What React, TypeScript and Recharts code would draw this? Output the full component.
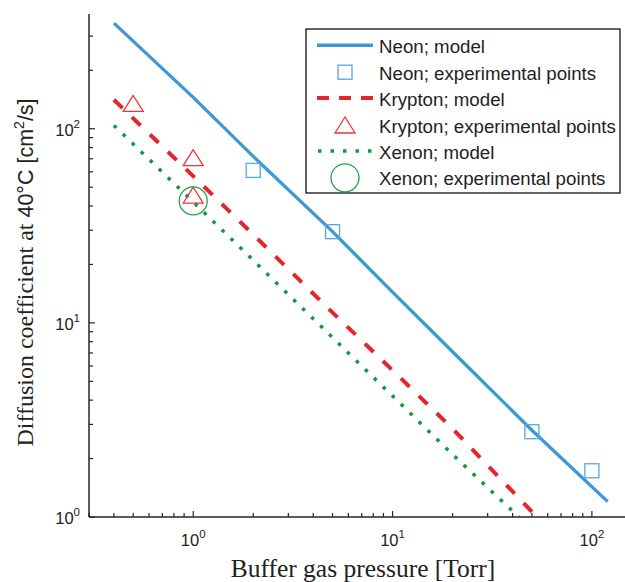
import { ComposedChart, Line, Scatter, XAxis, YAxis } from "recharts";

// model curves (pressure in Torr, D in cm^2/s)
const neonModelP = [0.4, 1, 2, 5, 10, 20, 50, 120];
const neonModelD = [350, 145, 72, 29.5, 14.4, 7.1, 2.8, 1.2];
const kryptonModelP = [0.4, 1, 2, 5, 10, 20, 53];
const kryptonModelD = [141, 57, 28.5, 11.3, 5.7, 2.85, 1.0];
const xenonModelP = [0.4, 1, 2, 5, 10, 20, 43];
const xenonModelD = [104, 42, 21, 8.4, 4.2, 2.1, 1.0];

// experimental points
const neonExpP = [2, 5, 50, 100];
const neonExpD = [61, 29.5, 2.75, 1.73];
const kryptonExpP = [0.5, 1, 1];
const kryptonExpD = [135, 71, 45.5];
const xenonExpP = [1];
const xenonExpD = [42.5];

const xTicks = [0.3, 0.4, 0.5, 0.6, 0.7, 0.8, 0.9, 1, 2, 3, 4, 5, 6, 7, 8, 9, 10, 20, 30, 40, 50, 60, 70, 80, 90, 100];
const yTicks = [1, 2, 3, 4, 5, 6, 7, 8, 9, 10, 20, 30, 40, 50, 60, 70, 80, 90, 100, 200, 300];
const majorTicks = [1, 10, 100];
const majorExp = ["0", "1", "2"];

const legendLabels = [
  "Neon; model",
  "Neon; experimental points",
  "Krypton; model",
  "Krypton; experimental points",
  "Xenon; model",
  "Xenon; experimental points",
];

const BLUE = "#3d98d3";
const BLUE_PT = "#55a8de";
const RED = "#e3262b";
const RED_PT = "#e8393f";
const GREEN = "#0f9a3d";
const GREEN_PT = "#25a44c";
const AXIS = "#262626";
const SANS = "'Liberation Sans', Arial, sans-serif";
const SERIF = "'Liberation Serif', 'Times New Roman', serif";

const rows = (p: number[], d: number[]) => p.map((v, i) => ({ p: v, d: d[i] }));

const tickLen = (v: number) => (majorTicks.includes(v) ? 6 : 4);

function BottomTick(props: any) {
  const { x, y, payload } = props;
  const v = payload.value;
  const idx = majorTicks.indexOf(v);
  return (
    <g>
      <line x1={x} x2={x} y1={y} y2={y - tickLen(v)} stroke={AXIS} strokeWidth={1.2} />
      {idx >= 0 && (
        <text x={x} y={y + 29} textAnchor="middle" fontFamily={SANS} fontSize={16.5} fill="#222">
          10
          <tspan dy={-8} fontSize={11.5}>
            {majorExp[idx]}
          </tspan>
        </text>
      )}
    </g>
  );
}

function TopTick(props: any) {
  const { x, y, payload } = props;
  return <line x1={x} x2={x} y1={y} y2={y + tickLen(payload.value)} stroke={AXIS} strokeWidth={1.2} />;
}

function LeftTick(props: any) {
  const { x, y, payload } = props;
  const v = payload.value;
  const idx = majorTicks.indexOf(v);
  return (
    <g>
      <line x1={x} x2={x + tickLen(v)} y1={y} y2={y} stroke={AXIS} strokeWidth={1.2} />
      {idx >= 0 && (
        <text x={x - 9} y={y + 7} textAnchor="end" fontFamily={SANS} fontSize={16.5} fill="#222">
          10
          <tspan dy={-8} fontSize={11.5}>
            {majorExp[idx]}
          </tspan>
        </text>
      )}
    </g>
  );
}

function RightTick(props: any) {
  const { x, y, payload } = props;
  return <line x1={x} x2={x - tickLen(payload.value)} y1={y} y2={y} stroke="#888" strokeWidth={1.2} />;
}

function XLabel(props: any) {
  const vb = props.viewBox;
  return (
    <text x={vb.x + vb.width / 2 + 5} y={vb.y + 60} textAnchor="middle" fontFamily={SERIF} fontSize={25.5} fill="#222">
      Buffer gas pressure [Torr]
    </text>
  );
}

function YLabel(props: any) {
  const vb = props.viewBox;
  const cx = 33;
  const cy = vb.y + vb.height / 2 + 7;
  return (
    <text
      x={cx}
      y={cy}
      transform={`rotate(-90, ${cx}, ${cy})`}
      textAnchor="middle"
      fontFamily={SERIF}
      fontSize={24}
      fill="#222"
    >
      Diffusion coefficient at{" "}
      <tspan fontFamily={SANS} fontSize={21.5}>
        40°C [cm
      </tspan>
      <tspan fontFamily={SANS} fontSize={14} dy={-9}>
        2
      </tspan>
      <tspan fontFamily={SANS} fontSize={21.5} dy={9}>
        /s]
      </tspan>
    </text>
  );
}

const Square = (props: any) => (
  <rect x={props.cx - 7} y={props.cy - 7} width={14} height={14} fill="none" stroke={BLUE_PT} strokeWidth={1.3} />
);
const Triangle = (props: any) => (
  <polygon
    points={`${props.cx},${props.cy - 8} ${props.cx - 10},${props.cy + 8} ${props.cx + 10},${props.cy + 8}`}
    fill="none"
    stroke={RED_PT}
    strokeWidth={1.3}
  />
);
const Circle = (props: any) => (
  <circle cx={props.cx} cy={props.cy} r={14} fill="none" stroke={GREEN_PT} strokeWidth={1.3} />
);

function LegendBox() {
  const base = 24.3;
  const step = 26.4;
  return (
    <svg width={316} height={166} style={{ position: "absolute", left: 305, top: 28 }}>
      <rect x={1} y={1} width={314} height={164} fill="#fff" stroke="#111" strokeWidth={1.3} />
      {legendLabels.map((label, i) => {
        const by = base + i * step + 1;
        const cy = by - 8;
        let sample = null;
        if (i === 0) sample = <line x1={12} x2={68} y1={cy} y2={cy} stroke={BLUE} strokeWidth={3.5} />;
        if (i === 1) sample = <Square cx={40} cy={cy + 0.5} />;
        if (i === 2)
          sample = <line x1={12} x2={68} y1={cy} y2={cy} stroke={RED} strokeWidth={4} strokeDasharray="12 10" />;
        if (i === 3) sample = <Triangle cx={40} cy={cy + 0.5} />;
        if (i === 4)
          sample = <line x1={13} x2={68} y1={cy} y2={cy} stroke={GREEN} strokeWidth={3.5} strokeDasharray="3.5 9" />;
        if (i === 5) sample = <Circle cx={40} cy={cy + 0.5} />;
        return (
          <g key={label}>
            {sample}
            <text x={74} y={by} fontFamily={SANS} fontSize={18.7} fill="#222">
              {label}
            </text>
          </g>
        );
      })}
    </svg>
  );
}

export default function App() {
  const xDomain = [0.3, 150];
  const yDomain = [1, 390];
  return (
    <div
      style={{
        position: "fixed",
        left: 0,
        top: 0,
        width: 625,
        height: 582,
        overflow: "hidden",
        background: "#fff",
      }}
    >
      <ComposedChart width={640} height={582} margin={{ top: 14, right: 13, bottom: 0, left: 0 }}>
        <XAxis
          xAxisId="bottom"
          dataKey="p"
          type="number"
          scale="log"
          domain={xDomain}
          allowDataOverflow
          ticks={xTicks}
          interval={0}
          tickSize={0}
          tickMargin={0}
          tickLine={false}
          tick={(p: any) => <BottomTick {...p} />}
          axisLine={{ stroke: AXIS, strokeWidth: 1.5 }}
          height={65}
          label={(p: any) => <XLabel {...p} />}
        />
        <XAxis
          xAxisId="top"
          orientation="top"
          type="number"
          scale="log"
          domain={xDomain}
          allowDataOverflow
          ticks={xTicks}
          interval={0}
          tickSize={0}
          tickMargin={0}
          tickLine={false}
          tick={(p: any) => <TopTick {...p} />}
          axisLine={{ stroke: AXIS, strokeWidth: 1.5 }}
          height={0}
        />
        <YAxis
          yAxisId="left"
          dataKey="d"
          type="number"
          scale="log"
          domain={yDomain}
          allowDataOverflow
          ticks={yTicks}
          interval={0}
          tickSize={0}
          tickMargin={0}
          tickLine={false}
          tick={(p: any) => <LeftTick {...p} />}
          axisLine={{ stroke: AXIS, strokeWidth: 1.5 }}
          width={89}
          label={(p: any) => <YLabel {...p} />}
        />
        <YAxis
          yAxisId="right"
          orientation="right"
          type="number"
          scale="log"
          domain={yDomain}
          allowDataOverflow
          ticks={yTicks}
          interval={0}
          tickSize={0}
          tickMargin={0}
          tickLine={false}
          tick={(p: any) => <RightTick {...p} />}
          axisLine={{ stroke: AXIS, strokeWidth: 1.5 }}
          width={0}
        />
        <Line
          xAxisId="bottom"
          yAxisId="left"
          data={rows(neonModelP, neonModelD)}
          dataKey="d"
          type="linear"
          stroke={BLUE}
          strokeWidth={3.3}
          dot={false}
          isAnimationActive={false}
        />
        <Line
          xAxisId="bottom"
          yAxisId="left"
          data={rows(kryptonModelP, kryptonModelD)}
          dataKey="d"
          type="linear"
          stroke={RED}
          strokeWidth={4}
          strokeDasharray="12 13"
          dot={false}
          isAnimationActive={false}
        />
        <Line
          xAxisId="bottom"
          yAxisId="left"
          data={rows(xenonModelP, xenonModelD)}
          dataKey="d"
          type="linear"
          stroke={GREEN}
          strokeWidth={3.5}
          strokeDasharray="3.5 9"
          dot={false}
          isAnimationActive={false}
        />
        <Scatter
          xAxisId="bottom"
          yAxisId="left"
          data={rows(neonExpP, neonExpD)}
          shape={(p: any) => <Square {...p} />}
          isAnimationActive={false}
        />
        <Scatter
          xAxisId="bottom"
          yAxisId="left"
          data={rows(kryptonExpP, kryptonExpD)}
          shape={(p: any) => <Triangle {...p} />}
          isAnimationActive={false}
        />
        <Scatter
          xAxisId="bottom"
          yAxisId="left"
          data={rows(xenonExpP, xenonExpD)}
          shape={(p: any) => <Circle {...p} />}
          isAnimationActive={false}
        />
      </ComposedChart>
      <LegendBox />
    </div>
  );
}
